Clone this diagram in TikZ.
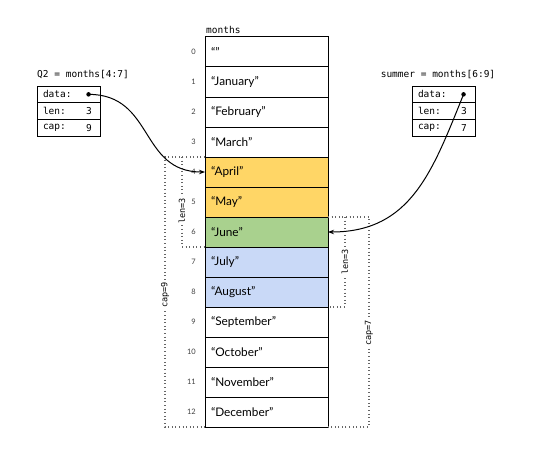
\documentclass[tikz,border=0pt]{standalone}
\usepackage{fontspec}
\setmainfont{Lato}
\setmonofont{DejaVu Sans Mono}
\usetikzlibrary{positioning,arrows.meta}
\definecolor{sliceGold}{HTML}{FFD666}
\definecolor{sliceGreen}{HTML}{A9D18E}
\definecolor{sliceBlue}{HTML}{C9D9F7}
\begin{document}
\begin{tikzpicture}[
        x=1pt, y=1pt,
        cell/.style={draw, line width=1pt, outer sep=0pt, anchor=north west,
            minimum width=123pt, minimum height=30pt, text width=111pt,
            inner xsep=6pt, align=left, font=\fontsize{11.8}{13}\selectfont},
        idx/.style={inner sep=0pt, text=black!75, font=\fontsize{7.5}{8}\selectfont},
        codelabel/.style={inner sep=1pt, font=\ttfamily\fontsize{9.5}{11}\selectfont},
        slotbox/.style={draw, line width=0.9pt, outer sep=0pt, minimum width=63pt,
            minimum height=16.7pt, text width=51pt, inner xsep=6pt, inner ysep=0pt,
            align=left, font=\ttfamily\fontsize{9.5}{11}\selectfont},
        slotval/.style={inner sep=0pt, font=\ttfamily\fontsize{9.5}{11}\selectfont},
        ptrdot/.style={circle, fill, inner sep=0pt, minimum size=4.5pt},
        pointer/.style={line width=1pt, -{Stealth[length=6pt, width=4.5pt]}},
        bracket/.style={line width=1.1pt, black!60, dash pattern=on 1pt off 2.6pt},
        bracketlabel/.style={rotate=90, fill=white, inner sep=1.5pt,
            font=\ttfamily\fontsize{8.5}{9}\selectfont}
    ]
        \useasboundingbox (0,0) rectangle (538,-452);

        \foreach \i/\month/\shade in {0/{“”}/white, 1/{“January”}/white,
                2/{“February”}/white, 3/{“March”}/white, 4/{“April”}/sliceGold,
                5/{“May”}/sliceGold, 6/{“June”}/sliceGreen, 7/{“July”}/sliceBlue,
                8/{“August”}/sliceBlue, 9/{“September”}/white, 10/{“October”}/white,
                11/{“November”}/white, 12/{“December”}/white} {
            \node[cell, fill=\shade] (m\i) at (205,{-37-30*\i}) {\month};
            \node[idx, left=9pt of m\i.west] (idx\i) {\i};
        }
        \node[codelabel, anchor=south west] (monthsName)
            at ([yshift=2pt]m0.north west) {months};

        \node[codelabel] (q2Name) at (83,-75) {Q2 = months[4:7]};
        \node[slotbox, anchor=north west] (q2Data) at (37,-86) {data:};
        \node[slotbox, below=0pt of q2Data] (q2Len) {len:};
        \node[slotbox, below=0pt of q2Len] (q2Cap) {cap:};
        \node[ptrdot, left=9pt of q2Data.east] (q2Dot) {};
        \node[slotval, left=8pt of q2Len.east] (q2LenVal) {3};
        \node[slotval, left=8pt of q2Cap.east] (q2CapVal) {9};

        \node[codelabel] (summerName) at (438,-75) {summer = months[6:9]};
        \node[slotbox, anchor=north west] (summerData) at (412,-86) {data:};
        \node[slotbox, below=0pt of summerData] (summerLen) {len:};
        \node[slotbox, below=0pt of summerLen] (summerCap) {cap:};
        \node[ptrdot, left=9pt of summerData.east] (summerDot) {};
        \node[slotval, left=8pt of summerLen.east] (summerLenVal) {3};
        \node[slotval, left=8pt of summerCap.east] (summerCapVal) {7};

        \draw[bracket] (m4.north west) -- ++(-40,0) |- (m12.south west);
        \draw[bracket] (m4.north west) ++(-23,0) |- (m6.south west);
        \node[bracketlabel] (q2CapLabel) at (165,-295) {cap=9};
        \node[bracketlabel] (q2LenLabel) at (182,-211) {len=3};

        \draw[bracket] (m6.north east) -- ++(41,0) |- (m12.south east);
        \draw[bracket] (m6.north east) ++(17,0) |- (m8.south east);
        \node[bracketlabel] (summerCapLabel) at (369,-333) {cap=7};
        \node[bracketlabel] (summerLenLabel) at (345,-262) {len=3};

        \draw[pointer] (q2Dot.center) to[out=0, in=180, looseness=1.2] (m4.west);
        \draw[pointer] (summerDot.center) to[out=-112, in=0, looseness=1.1] (m6.east);
    \end{tikzpicture}
\end{document}
